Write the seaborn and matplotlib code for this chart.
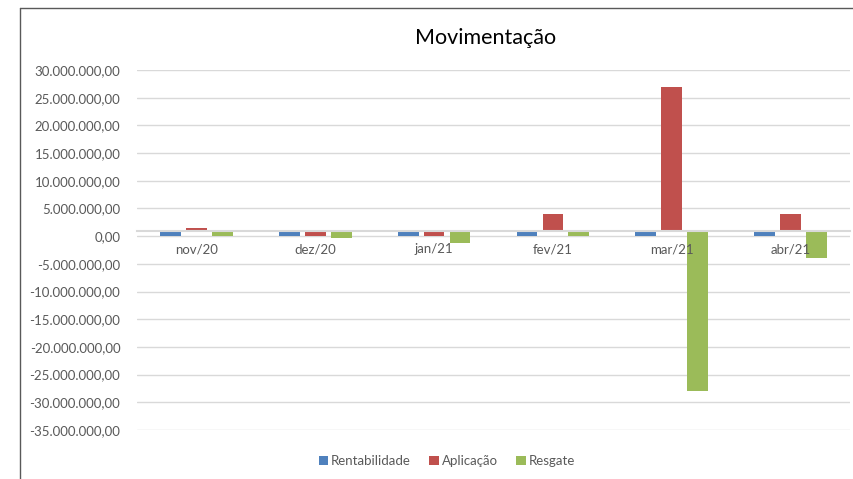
import numpy as np
import pandas as pd
import matplotlib
matplotlib.use("Agg")
import matplotlib.pyplot as plt
from matplotlib.ticker import FuncFormatter, MultipleLocator
from matplotlib.lines import Line2D
from matplotlib.patches import Patch
import seaborn as sns

# ---- data ----
meses = ["nov/20", "dez/20", "jan/21", "fev/21", "mar/21", "abr/21"]
rentabilidade = [60000, 60000, 60000, 60000, 60000, 60000]
aplicacao = [1440000, 0, 0, 3970000, 26900000, 3970000]
resgate = [0, -420000, -1250000, 0, -27900000, -3970000]
series_names = ["Rentabilidade", "Aplicação", "Resgate"]
cores = ["#4F81BD", "#C0504D", "#9BBB59"]
cruzamento = 1000000  # horizontal axis crosses the value axis here
y_min, y_max = -35000000, 30000000

df = pd.DataFrame({
    "mes": meses * 3,
    "serie": [s for s in series_names for _ in meses],
    "valor": rentabilidade + aplicacao + resgate,
})
df["altura"] = df["valor"] - cruzamento

sns.set_theme(style="white")
plt.rcParams["font.family"] = ["Lato", "DejaVu Sans"]

fig = plt.figure(figsize=(8.54, 4.79), dpi=100)
ax = fig.add_axes([137 / 854, 1 - 430 / 479, 713 / 854, 360 / 479])

sns.barplot(data=df, x="mes", y="altura", hue="serie", order=meses,
            hue_order=series_names, palette=cores, width=0.655, gap=0.2,
            bottom=cruzamento, linewidth=0, saturation=1, errorbar=None,
            ax=ax, legend=False, zorder=1)

ax.set_ylim(y_min, y_max)
ax.yaxis.set_major_locator(MultipleLocator(5000000))

def fmt(v, pos):
    s = f"{abs(v):,.2f}".replace(",", "X").replace(".", ",").replace("X", ".")
    return ("-" if v < 0 else "") + s

ax.yaxis.set_major_formatter(FuncFormatter(fmt))
ax.grid(axis="y", color="#D9D9D9", linewidth=1)
ax.set_axisbelow(True)
ax.xaxis.set_zorder(3)
for s in ["top", "right", "left"]:
    ax.spines[s].set_visible(False)
ax.spines["bottom"].set_position(("data", cruzamento))
ax.spines["bottom"].set_color("#D9D9D9")
ax.spines["bottom"].set_linewidth(1.5)
ax.spines["bottom"].set_zorder(2)
ax.tick_params(axis="both", length=0, labelcolor="#595959", labelsize=9.5)
ax.tick_params(axis="x", pad=9)
ax.tick_params(axis="y", pad=12)
ax.set_xlabel("")
ax.set_ylabel("")

handles = [Patch(facecolor=c, edgecolor="none", label=n)
           for c, n in zip(cores, series_names)]
leg = ax.legend(handles=handles, loc="center",
                bbox_to_anchor=(447 / 854, 1 - 461 / 479),
                bbox_transform=fig.transFigure, ncol=3, frameon=False,
                fontsize=9.5, handlelength=0.7, handleheight=0.7,
                handletextpad=0.25, columnspacing=1.4)
for t in leg.get_texts():
    t.set_color("#595959")

fig.text(486 / 854, 1 - 38 / 479, "Movimentação", ha="center", va="center",
         fontsize=15.5, color="#000000")

# chart frame (left and top edges visible)
fig.add_artist(Line2D([20.5 / 854, 20.5 / 854], [0, 1 - 7.5 / 479],
                      transform=fig.transFigure, color="#595959", linewidth=1))
fig.add_artist(Line2D([20.5 / 854, 1], [1 - 7.5 / 479, 1 - 7.5 / 479],
                      transform=fig.transFigure, color="#595959", linewidth=1))

fig.savefig("out.png", dpi=100)
